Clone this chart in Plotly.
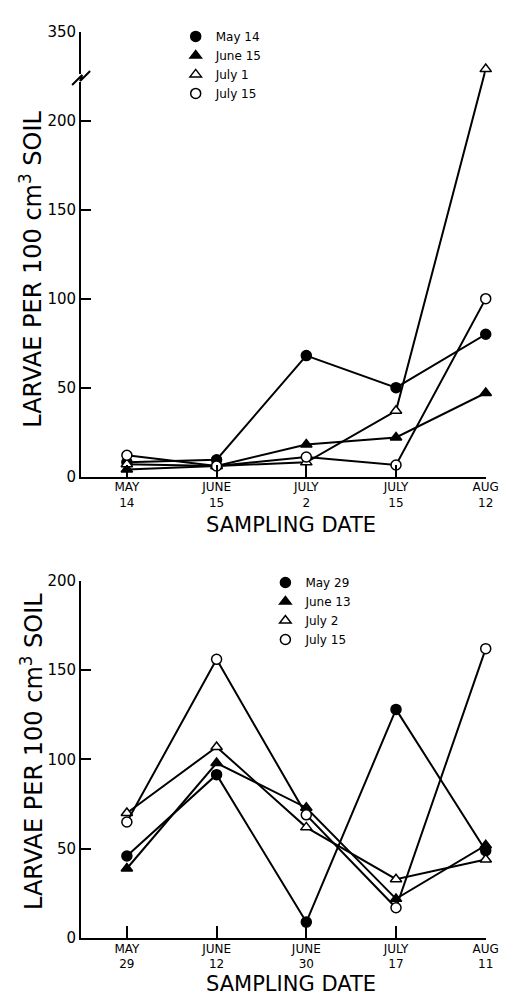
import plotly.graph_objects as go

# ---- data: top panel ----
top_dates = ["MAY<br>14", "JUNE<br>15", "JULY<br>2", "JULY<br>15", "AUG<br>12"]
top_may14 = [8, 9.5, 68, 50, 80]
top_june15 = [4, 6, 18, 22, 47]
top_july1 = [7, 6, 8, 37, 229]
top_july15 = [12, 6, 11, 6.5, 100]
top_ytickvals = [0, 50, 100, 150, 200, 250]
top_yticktext = ["0", "50", "100", "150", "200", "350"]

# ---- data: bottom panel ----
bot_dates = ["MAY<br>29", "JUNE<br>12", "JUNE<br>30", "JULY<br>17", "AUG<br>11"]
bot_may29 = [46, 91.5, 9, 128, 49]
bot_june13 = [39, 98, 73, 22, 52]
bot_july2 = [70, 107, 62, 33, 44]
bot_july15 = [65, 156, 69, 17, 162]
bot_ytickvals = [0, 50, 100, 150, 200]

FONT = "DejaVu Sans"
BLACK = "black"

W, H = 519, 1004


def px(sx):
    return sx / W


def py(sy):
    return 1 - sy / H


styles = [
    dict(symbol="circle", size=10, color=BLACK, line=dict(color=BLACK, width=1.5)),
    dict(symbol="triangle-up", size=10, color=BLACK, line=dict(color=BLACK, width=1.5)),
    dict(symbol="triangle-up", size=10, color="white", line=dict(color=BLACK, width=1.5)),
    dict(symbol="circle", size=10, color="white", line=dict(color=BLACK, width=1.5)),
]

fig = go.Figure()

top_series = [("May 14", top_may14), ("June 15", top_june15), ("July 1", top_july1), ("July 15", top_july15)]
bot_series = [("May 29", bot_may29), ("June 13", bot_june13), ("July 2", bot_july2), ("July 15", bot_july15)]

for (name, vals), st in zip(top_series, styles):
    fig.add_trace(go.Scatter(x=list(range(len(top_dates))), y=vals, mode="lines+markers",
                             line=dict(color=BLACK, width=2), marker=st, showlegend=False,
                             cliponaxis=False, xaxis="x", yaxis="y"))
for (name, vals), st in zip(top_series, styles):
    fig.add_trace(go.Scatter(x=[None], y=[None], mode="markers", marker=st, name=name,
                             legend="legend", xaxis="x", yaxis="y"))

for (name, vals), st in zip(bot_series, styles):
    fig.add_trace(go.Scatter(x=list(range(len(bot_dates))), y=vals, mode="lines+markers",
                             line=dict(color=BLACK, width=2), marker=st, showlegend=False,
                             cliponaxis=False, xaxis="x2", yaxis="y2"))
for (name, vals), st in zip(bot_series, styles):
    fig.add_trace(go.Scatter(x=[None], y=[None], mode="markers", marker=st, name=name,
                             legend="legend2", xaxis="x2", yaxis="y2"))

xdom = [px(75), px(490)]

axis_common = dict(showline=True, linecolor=BLACK, linewidth=2, showgrid=False, zeroline=False,
                   ticks="inside", tickcolor=BLACK, tickwidth=2)
xtickfont = dict(family=FONT, size=12, color=BLACK)
ytickfont = dict(family=FONT, size=15, color=BLACK)

fig.update_layout(
    width=W, height=H, margin=dict(l=0, r=0, t=0, b=0),
    paper_bgcolor="white", plot_bgcolor="white",
    font=dict(family=FONT, color=BLACK),
    xaxis=dict(domain=xdom, range=[-0.51, 4.0], tickvals=list(range(5)), ticktext=top_dates,
               ticklen=12, anchor="y", tickfont=xtickfont, ticklabelstandoff=-2, **axis_common),
    yaxis=dict(domain=[py(468), py(15)], range=[0, 250], tickvals=top_ytickvals,
               ticktext=top_yticktext, ticklen=10, anchor="x", tickfont=ytickfont, **axis_common),
    xaxis2=dict(domain=xdom, range=[-0.51, 4.0], tickvals=list(range(5)), ticktext=bot_dates,
                ticklen=12, anchor="y2", tickfont=xtickfont, ticklabelstandoff=-2, **axis_common),
    yaxis2=dict(domain=[py(938), py(574)], range=[0, 200], tickvals=bot_ytickvals,
                ticklen=10, anchor="x2", tickfont=ytickfont, **axis_common),
    legend=dict(x=px(172), y=py(5), xanchor="left", yanchor="top", bgcolor="rgba(0,0,0,0)",
                font=dict(family=FONT, size=12, color=BLACK), itemwidth=30, tracegroupgap=0),
    legend2=dict(x=px(264), y=py(561), xanchor="left", yanchor="top", bgcolor="rgba(0,0,0,0)",
                 font=dict(family=FONT, size=12, color=BLACK), itemwidth=30, tracegroupgap=0),
)

ytitle = "LARVAE PER 100 cm<sup>3</sup> SOIL"
xtitle = "SAMPLING DATE"
title_font = dict(family=FONT, size=24, color=BLACK)
for (ax, ay) in [(px(24), py(257)), (px(24), py(748))]:
    fig.add_annotation(text=ytitle, x=ax, y=ay, xref="paper", yref="paper", showarrow=False,
                       textangle=-90, xanchor="center", yanchor="middle", font=title_font)
for (ax, ay) in [(px(290), py(517)), (px(290), py(985))]:
    fig.add_annotation(text=xtitle, x=ax, y=ay, xref="paper", yref="paper", showarrow=False,
                       xanchor="center", yanchor="middle", font=dict(family=FONT, size=21, color=BLACK))

# axis break mark on the top y axis
fig.add_shape(type="rect", xref="x domain", yref="y", xsizemode="pixel", ysizemode="pixel",
              xanchor=0, yanchor=224, x0=-3, x1=3, y0=-4, y1=4,
              fillcolor="white", line=dict(width=0))
fig.add_shape(type="path", xref="x domain", yref="y", xsizemode="pixel", ysizemode="pixel",
              xanchor=0, yanchor=224,
              path="M -9,-7 L 1,3 L -1,-3 L 9,7",
              line=dict(color=BLACK, width=2))

fig.write_html("out.html")
